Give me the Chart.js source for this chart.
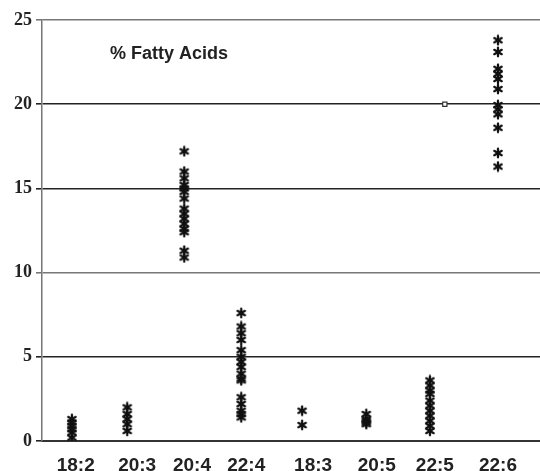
<!DOCTYPE html>
<html>
<head>
<meta charset="utf-8">
<script src="https://cdn.jsdelivr.net/npm/chart.js@4.4.0/dist/chart.umd.min.js"></script>
<style>
  html, body { margin: 0; padding: 0; background: #fff; overflow: hidden; }
  #wrap { width: 546px; height: 471px; }
</style>
</head>
<body>
<div id="wrap"><canvas id="myChart"></canvas></div>
<script>
//  categories and where they sit on the x scale
const categories  = ["18:2", "20:3", "20:4", "22:4", "18:3", "20:5", "22:5", "22:6"];
const labelPos    = [0.61, 1.72, 2.71, 3.69, 4.90, 6.05, 7.10, 8.24];
const columnPos   = [0.54, 1.54, 2.57, 3.60, 4.70, 5.86, 7.01, 8.24];

//  % of fatty acids, one list per acid
const vals_18_2 = [1.3, 1.1, 0.9, 0.7, 0.5, 0.2];
const vals_20_3 = [2.0, 1.6, 1.3, 1.0, 0.6];
const vals_20_4 = [17.2, 16.0, 15.6, 15.2, 15.0, 14.8, 14.4, 13.8, 13.5, 13.2, 12.9, 12.6, 12.4, 11.3, 10.9];
const vals_22_4 = [7.6, 6.8, 6.4, 6.0, 5.4, 5.0, 4.7, 4.4, 4.0, 3.7, 3.6, 2.6, 2.2, 1.8, 1.6, 1.4];
const vals_18_3 = [1.8, 0.95];
const vals_20_5 = [1.6, 1.3, 1.2, 1.1, 1.0];
const vals_22_5 = [3.6, 3.3, 3.0, 2.8, 2.4, 2.1, 1.8, 1.5, 1.2, 0.9, 0.6];
const vals_22_6 = [23.8, 23.1, 22.1, 21.8, 21.5, 20.9, 19.95, 19.7, 19.4, 18.6, 17.1, 16.3];

//  the single open square marker at 22:5
const squareX = [7.28];
const squareY = [20.0];

const yTicks = [0, 5, 10, 15, 20, 25];
const titleText = "% Fatty Acids";

//  asterisk marker
function makeAsterisk(){
    const c = document.createElement("canvas");
    c.width = 12; c.height = 12;
    const ctx = c.getContext("2d");
    ctx.strokeStyle = "#111";
    ctx.lineWidth = 2.3;
    ctx.lineCap = "round";
    for(let i=0; i<6; i++){
        const a = Math.PI/2 + i*Math.PI/3;
        ctx.beginPath();
        ctx.moveTo(6, 6);
        ctx.lineTo(6 + 4.3*Math.cos(a), 6 - 4.3*Math.sin(a));
        ctx.stroke();
    }
    return c;
}
const star = makeAsterisk();

const allValues = [vals_18_2, vals_20_3, vals_20_4, vals_22_4, vals_18_3, vals_20_5, vals_22_5, vals_22_6];

const datasets = allValues.map((vals, i) => ({
    label: categories[i],
    data: vals.map(v => ({x: columnPos[i], y: v})),
    pointStyle: star,
    pointRadius: 5,
    showLine: false
}));
datasets.push({
    label: "square",
    data: squareX.map((x, i) => ({x: x, y: squareY[i]})),
    pointStyle: "rect",
    pointRadius: 3,
    backgroundColor: "#fff",
    borderColor: "#333",
    borderWidth: 1.2,
    showLine: false
});

//  title text inside the plot area
const innerTitle = {
    id: "innerTitle",
    afterDraw(chart){
        const ctx = chart.ctx;
        ctx.save();
        ctx.font = "bold 18px 'Liberation Sans', Arial, sans-serif";
        ctx.fillStyle = "#222";
        ctx.textBaseline = "middle";
        ctx.fillText(titleText, chart.chartArea.left + 68, chart.scales.y.getPixelForValue(23.0));
        ctx.restore();
    }
};

const config = {
    type: "scatter",
    data: { datasets: datasets },
    options: {
        responsive: true,
        maintainAspectRatio: false,
        animation: false,
        layout: { padding: { top: 20, right: 0, left: 0, bottom: 0 } },
        plugins: { legend: { display: false }, tooltip: { enabled: false } },
        scales: {
            x: {
                type: "linear",
                min: 0,
                max: 9,
                afterBuildTicks: axis => { axis.ticks = labelPos.map(v => ({value: v})); },
                afterFit: axis => { axis.height = 30; },
                ticks: {
                    autoSkip: false,
                    maxRotation: 0,
                    padding: 5,
                    color: "#222",
                    font: { family: "'Liberation Sans', Arial, sans-serif", size: 19, weight: "bold" },
                    callback: (v, i) => categories[i]
                },
                grid: { display: false },
                border: { display: true, color: "#333", width: 2 }
            },
            y: {
                min: 0,
                max: 25,
                afterBuildTicks: axis => { axis.ticks = yTicks.map(v => ({value: v})); },
                afterFit: axis => { axis.width = 42; },
                ticks: {
                    padding: 4,
                    color: "#222",
                    font: { family: "'Liberation Serif', 'Times New Roman', serif", size: 18, weight: "bold" }
                },
                grid: {
                    color: ctx => (ctx.tick && (ctx.tick.value === 10 || ctx.tick.value === 25)) ? "#777" : "#222",
                    lineWidth: 1.6,
                    tickLength: 6
                },
                border: { display: true, color: "#777", width: 1.5 }
            }
        }
    },
    plugins: [innerTitle]
};

let myChart = new Chart(document.getElementById("myChart"), config);
</script>
</body>
</html>
